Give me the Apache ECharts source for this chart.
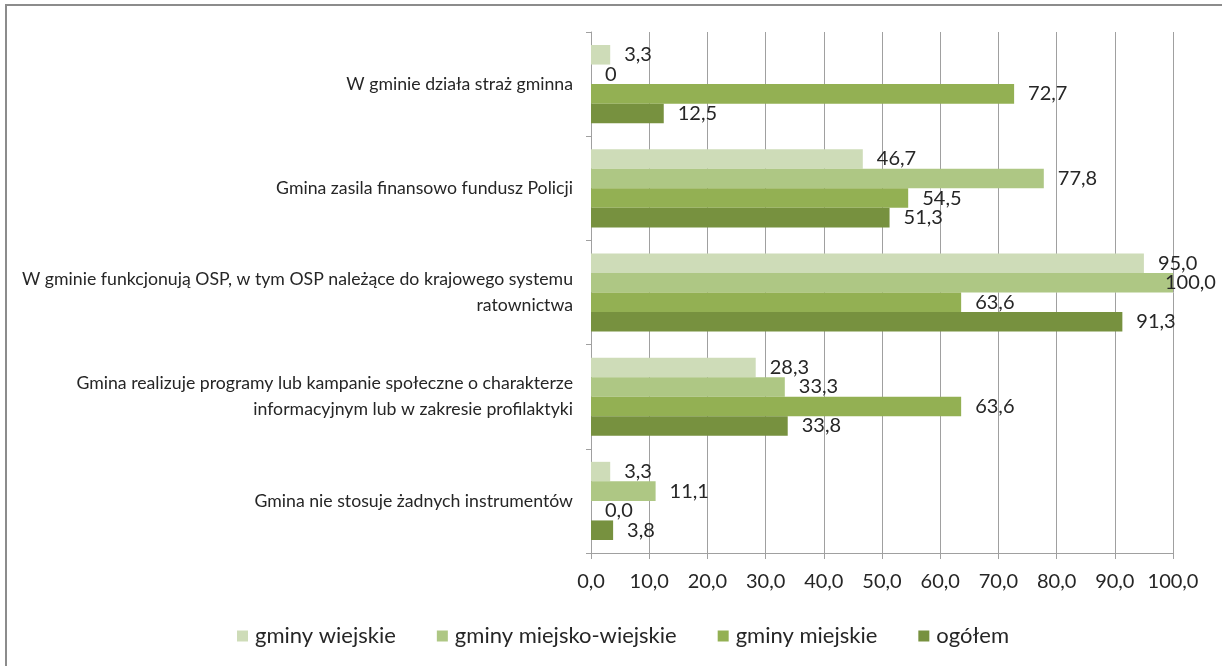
<!DOCTYPE html>
<html>
<head>
<meta charset="utf-8">
<script src="https://cdn.jsdelivr.net/npm/echarts@6/dist/echarts.min.js"></script>
<style>
html,body{margin:0;padding:0;background:#fff;}
#chart{width:1222px;height:666px;}
</style>
</head>
<body>
<div id="chart"></div>
<script>
const categories = [
  'W gminie działa straż gminna',
  'Gmina zasila finansowo fundusz Policji',
  'W gminie funkcjonują OSP, w tym OSP należące do krajowego systemu\nratownictwa',
  'Gmina realizuje programy lub kampanie społeczne o charakterze\ninformacyjnym lub w zakresie profilaktyki',
  'Gmina nie stosuje żadnych instrumentów'
];
const seriesNames = ['gminy wiejskie', 'gminy miejsko-wiejskie', 'gminy miejskie', 'ogółem'];
const wiejskie = [3.3, 46.7, 95.0, 28.3, 3.3];
const miejskoWiejskie = [0, 77.8, 100.0, 33.3, 11.1];
const miejskie = [72.7, 54.5, 63.6, 63.6, 0.0];
const ogolem = [12.5, 51.3, 91.3, 33.8, 3.8];
// label text shown in the source where it differs from the one-decimal format
const labelOverrides = { '1-0': '0' };
const xTicks = [0, 10, 20, 30, 40, 50, 60, 70, 80, 90, 100];

const colors = ['#CEDCB8', '#AEC784', '#93B053', '#77913F'];
const allData = [wiejskie, miejskoWiejskie, miejskie, ogolem];
const FONT = 'Lato';
// labels that the source pulled back inside the plot to keep them visible
const labelShift = { '1-2': [-22, 0] };

const chart = echarts.init(document.getElementById('chart'));
chart.setOption({
  animation: false,
  textStyle: { fontFamily: FONT },
  graphic: [{
    type: 'rect', shape: { x: 6, y: 5, width: 1400, height: 1000 },
    style: { fill: 'none', stroke: '#8c8c8c', lineWidth: 2 }, silent: true, z: -1
  }],
  grid: { left: 591, right: 49, top: 32, bottom: 113 },
  legend: {
    top: 620, left: 232,
    itemWidth: 11, itemHeight: 11, itemGap: 41,
    icon: 'rect',
    textStyle: { fontFamily: FONT, fontSize: 22, color: '#262626', padding: [0, 0, 0, 2] },
    data: seriesNames
  },
  xAxis: {
    type: 'value', min: xTicks[0], max: xTicks[xTicks.length - 1], interval: 10,
    axisLine: { show: true, lineStyle: { color: '#A0A0A0', width: 1 } },
    axisTick: { show: true, length: 6, lineStyle: { color: '#A0A0A0' } },
    splitLine: { show: true, lineStyle: { color: '#A0A0A0', width: 1 } },
    axisLabel: {
      fontFamily: FONT, fontSize: 20, color: '#262626', margin: 19,
      formatter: v => v.toFixed(1).replace('.', ',')
    }
  },
  yAxis: {
    type: 'category', data: categories, inverse: true,
    axisLine: { show: true, lineStyle: { color: '#A0A0A0', width: 1 } },
    axisTick: { show: true, length: 5, lineStyle: { color: '#A0A0A0' } },
    axisLabel: {
      fontFamily: FONT, fontSize: 17.7, color: '#262626', margin: 18,
      align: 'right', lineHeight: 26
    }
  },
  series: allData.map((d, si) => ({
    name: seriesNames[si], type: 'bar',
    data: d.map((v, i) => labelShift[si + '-' + i]
      ? { value: v, label: { offset: labelShift[si + '-' + i] } }
      : v),
    barGap: '0%', barCategoryGap: '25%',
    itemStyle: { color: colors[si] },
    label: {
      show: true, position: 'right', distance: 14,
      fontFamily: FONT, fontSize: 20, color: '#262626',
      formatter: p => labelOverrides[si + '-' + p.dataIndex] ?? p.value.toFixed(1).replace('.', ',')
    }
  }))
});
</script>
</body>
</html>
